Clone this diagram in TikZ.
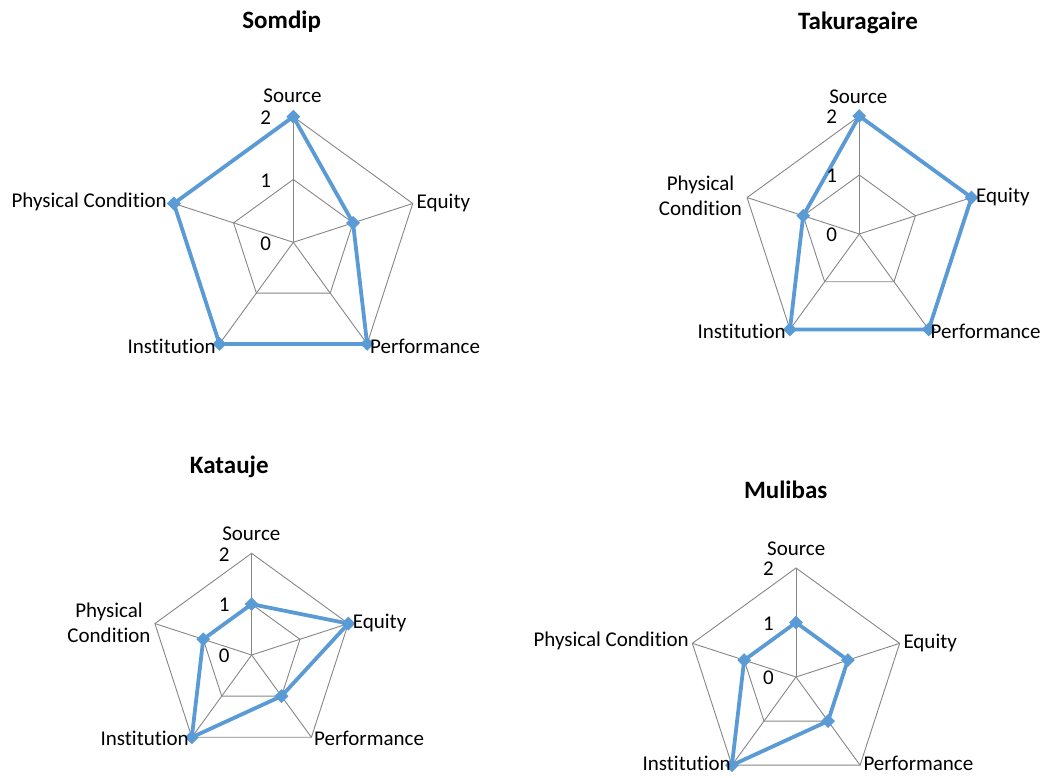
\documentclass[tikz,border=0pt]{standalone}
\usepackage{fontspec}
\setmainfont{Carlito}[Ligatures=NoCommon]
\usetikzlibrary{shapes.geometric}

\definecolor{gridgray}{HTML}{868686}
\definecolor{seriesblue}{HTML}{5B9BD5}

\tikzset{
  gridline/.style={draw=gridgray, line width=0.9pt},
  series/.style={draw=seriesblue, line width=3.8pt, line join=round},
  marker/.style={diamond, fill=seriesblue, minimum size=14pt, inner sep=0pt},
  lab/.style={font=\fontsize{21}{25}\selectfont, inner sep=0pt},
  tick/.style={font=\fontsize{21}{25}\selectfont, inner sep=0pt, anchor=east},
  charttitle/.style={font=\fontsize{25}{30}\selectfont\bfseries, inner sep=0pt, anchor=base},
}

% #1 name prefix, #2/#3 centre, #4 outer radius (value 2),
% #5..#9 values for Source, Equity, Performance, Institution, Physical Condition
\newcommand\radarchart[9]{%
  \begin{scope}[shift={(#2,#3)}, y=1pt]
    \coordinate (#1-c) at (0,0);
    \foreach \ang [count=\i] in {90,18,-54,-126,162} {
      \coordinate (#1-o\i) at (\ang:#4);
      \coordinate (#1-m\i) at (\ang:#4/2);
    }
    \draw[gridline] (#1-o1) -- (#1-o2) -- (#1-o3) -- (#1-o4) -- (#1-o5) -- cycle;
    \draw[gridline] (#1-m1) -- (#1-m2) -- (#1-m3) -- (#1-m4) -- (#1-m5) -- cycle;
    \foreach \i in {1,...,5} \draw[gridline] (#1-c) -- (#1-o\i);
    \coordinate (#1-d1) at (90:#4*#5/2);
    \coordinate (#1-d2) at (18:#4*#6/2);
    \coordinate (#1-d3) at (-54:#4*#7/2);
    \coordinate (#1-d4) at (-126:#4*#8/2);
    \coordinate (#1-d5) at (162:#4*#9/2);
    \draw[series] (#1-d1) -- (#1-d2) -- (#1-d3) -- (#1-d4) -- (#1-d5) -- cycle;
    \foreach \i in {1,...,5} \node[marker] (#1-k\i) at (#1-d\i) {};
    \node[tick] (#1-t0) at (-22,-1) {0};
    \node[tick] (#1-t1) at (-22,#4/2-1) {1};
    \node[tick] (#1-t2) at (-22,#4-1) {2};
  \end{scope}%
}

\begin{document}
\begin{tikzpicture}[x=1pt, y=-1pt]
  \useasboundingbox (0,0) rectangle (1047,778);

  % Somdip
  \radarchart{som}{293.3}{242.3}{125.6}{2}{1}{2}{2}{2}
  \node[charttitle] (som-title) at (281.7,28.3) {Somdip};
  \node[lab, anchor=base] (som-src) at (292.5,103) {Source};
  \node[lab, anchor=base west] (som-eq) at (416.5,209) {Equity};
  \node[lab, anchor=base west] (som-perf) at (370,353) {Performance};
  \node[lab, anchor=base east] (som-inst) at (216,353) {Institution};
  \node[lab, anchor=base east] (som-phys) at (167,208) {Physical Condition};

  % Takuragaire
  \radarchart{tak}{859.3}{234}{118}{2}{2}{2}{2}{1}
  \node[charttitle] (tak-title) at (858,30) {Takuragaire};
  \node[lab, anchor=base] (tak-src) at (858.3,103.3) {Source};
  \node[lab, anchor=base west] (tak-eq) at (976,203) {Equity};
  \node[lab, anchor=base west] (tak-perf) at (930.5,338) {Performance};
  \node[lab, anchor=base east] (tak-inst) at (786,338) {Institution};
  \node[lab, align=center] (tak-phys) at (700.5,196) {Physical\\Condition};

  % Katauje
  \radarchart{kat}{251.6}{655}{101.7}{1}{2}{1}{2}{1}
  \node[charttitle] (kat-title) at (229.3,473.3) {Katauje};
  \node[lab, anchor=base] (kat-src) at (251.3,540.7) {Source};
  \node[lab, anchor=base west] (kat-eq) at (352.7,628.3) {Equity};
  \node[lab, anchor=base west] (kat-perf) at (314,745) {Performance};
  \node[lab, anchor=base east] (kat-inst) at (189,745) {Institution};
  \node[lab, align=center] (kat-phys) at (109,622.5) {Physical\\Condition};

  % Mulibas
  \radarchart{mul}{796}{677}{109}{1}{1}{1}{2}{1}
  \node[charttitle] (mul-title) at (785.7,498) {Mulibas};
  \node[lab, anchor=base] (mul-src) at (796.2,555) {Source};
  \node[lab, anchor=base west] (mul-eq) at (903.3,648) {Equity};
  \node[lab, anchor=base west] (mul-perf) at (863.3,770) {Performance};
  \node[lab, anchor=base east] (mul-inst) at (731,770) {Institution};
  \node[lab, anchor=base east] (mul-phys) at (689,646.7) {Physical Condition};
\end{tikzpicture}
\end{document}
